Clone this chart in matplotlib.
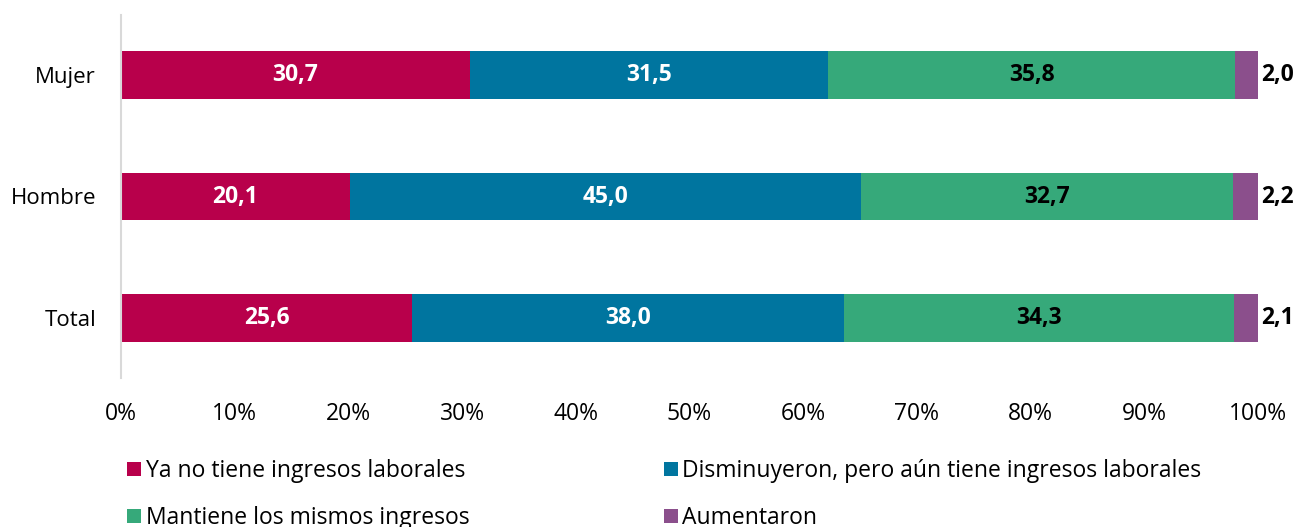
import matplotlib
matplotlib.use('Agg')
import matplotlib.pyplot as plt
from matplotlib.patches import Patch
import numpy as np

plt.rcParams['font.family'] = ['Open Sans', 'DejaVu Sans']

# --- data ---
categories = ['Total', 'Hombre', 'Mujer']
series_names = ['Ya no tiene ingresos laborales',
                'Disminuyeron, pero aún tiene ingresos laborales',
                'Mantiene los mismos ingresos',
                'Aumentaron']
ya_no = [25.6, 20.1, 30.7]
disminuyeron = [38.0, 45.0, 31.5]
mantiene = [34.3, 32.7, 35.8]
aumentaron = [2.1, 2.2, 2.0]
xticks = [0, 10, 20, 30, 40, 50, 60, 70, 80, 90, 100]

colors = ['#B8004B', '#00759F', '#36A97A', '#8B4F8C']
label_colors = ['white', 'white', 'black', 'black']

fig = plt.figure(figsize=(13.01, 5.27), dpi=100)
ax = fig.add_axes([121/1301, (527-378)/527, (1258-121)/1301, (378-15)/527])

y = np.arange(len(categories))
series = [ya_no, disminuyeron, mantiene, aumentaron]
# normalise each row to 100% like the original stacked-100 chart
tot = np.sum(series, axis=0)
left = np.zeros(len(categories))
for i, vals in enumerate(series):
    w = np.array(vals) / tot * 100
    ax.barh(y, w, left=left, height=0.395, color=colors[i], label=series_names[i])
    for j, v in enumerate(vals):
        txt = ('%.1f' % v).replace('.', ',')
        if i < 3:
            ax.text(left[j] + w[j] / 2, y[j], txt, ha='center', va='center',
                    color=label_colors[i], fontsize=16.5, fontweight='bold')
        else:
            ax.text(left[j] + w[j] + 0.3, y[j], txt, ha='left', va='center',
                    color='black', fontsize=16.5, fontweight='bold')
    left += w

ax.set_xlim(0, 100)
ax.set_ylim(-0.494, 2.494)
ax.set_yticks(y)
ax.set_yticklabels(categories, fontsize=16)
ax.set_xticks(xticks)
ax.set_xticklabels(['%d%%' % t for t in xticks], fontsize=16.5)
ax.tick_params(axis='both', length=0)
ax.tick_params(axis='x', pad=17)
ax.tick_params(axis='y', pad=18)
for s in ['top', 'right', 'bottom']:
    ax.spines[s].set_visible(False)
ax.spines['left'].set_color('#D9D9D9')
ax.spines['left'].set_linewidth(1.5)

handles = [Patch(facecolor=c) for c in colors]
order = [0, 2, 1, 3]
fig.legend([handles[k] for k in order], [series_names[k] for k in order],
           ncol=2, loc='upper left', bbox_to_anchor=(118/1301, 1 - 450/527),
           frameon=False, fontsize=16.5, handlelength=0.6, handleheight=0.6,
           handletextpad=0.2, columnspacing=8.5, labelspacing=1.0,
           borderaxespad=0)

fig.savefig('out.png', dpi=100)
